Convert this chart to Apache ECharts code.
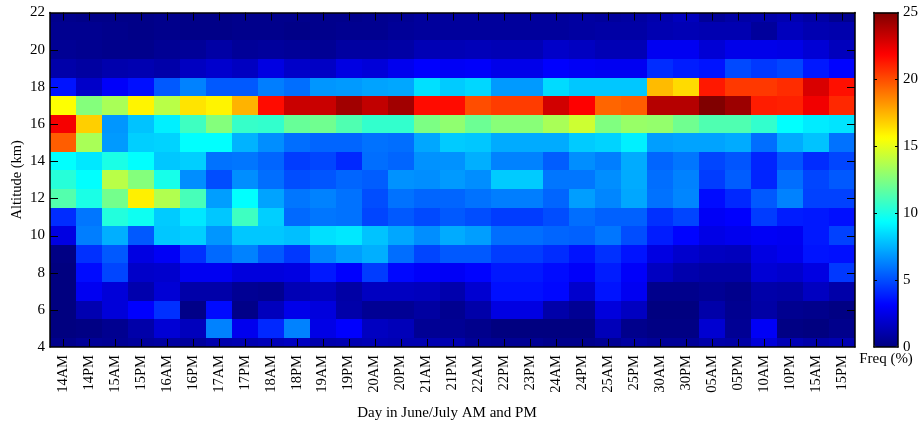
<!DOCTYPE html>
<html>
<head>
<meta charset="utf-8">
<style>html,body{margin:0;padding:0;background:#fff}#c{width:920px;height:421px}</style>
<script src="https://cdn.jsdelivr.net/npm/echarts@6/dist/echarts.min.js"></script>
</head>
<body>
<div id="c"></div>
<script>
var days = ['14AM','14PM','15AM','15PM','16AM','16PM','17AM','17PM','18AM','18PM','19AM','19PM','20AM','20PM','21AM','21PM','22AM','22PM','23PM','24AM','24PM','25AM','25PM','30AM','30PM','05AM','05PM','10AM','10PM','15AM','15PM'];
var alt22 = [.3,.2,.2,.2,.3,.2,.2,.3,.3,.3,.3,.3,.4,.5,.7,.7,.7,.7,.7,.7,.8,.7,.8,1.1,1.5,.6,.9,1.0,1.2,.9,.4];
var alt21 = [.4,.4,.3,.2,.3,.2,.2,.3,.3,.2,.3,.4,.4,.6,.7,.7,.7,.7,.7,.7,.8,.9,.9,1.2,1.3,1.2,1.2,.7,1.5,1.2,1.1];
var alt20 = [.5,.4,.3,.3,.5,.6,.9,.6,.7,.6,.5,.8,.8,.9,1.3,1.3,1.4,1.3,1.3,1.8,1.6,1.3,1.3,2.8,2.8,2.1,2.6,2.6,2.5,2.1,1.5];
var alt19 = [1,.8,1.1,1.2,1,1.6,1.9,1.6,2.4,1.8,1.7,2.4,2.2,2.7,3.1,2.9,3,2.6,2.6,3.1,2.9,2.8,2.8,4.2,3.8,3.6,4.9,4.5,4.8,3.7,3.2];
var alt18 = [3.6,1.8,3,3.5,5.3,6.3,5.3,5.3,6.2,5.8,6.8,6.9,7.1,7.2,8.6,8.1,8.4,6.9,6.9,8.5,8,8,8,17.3,16.5,21.3,20.5,20.5,20.8,22.8,21.5];
var alt17 = [15.6,12.6,13.5,15.9,13.9,16.3,15.9,17.5,21.6,23.2,23.2,24.2,23.4,24.2,21.6,21.6,20,20.4,20.4,23,21.9,19.4,19.6,23.7,23.7,25,24.3,21.2,21.1,22.2,20.9];
var alt16 = [22.1,16.8,6.8,7.9,9,10.9,12.6,10.7,10.6,11.9,12.1,11.3,10.6,10.6,12.4,12.9,12,12.7,12.7,13.5,14.4,12.5,13.1,13,12.1,11.3,11.3,10.6,9.4,8.9,8.7];
var alt15 = [19.6,13.5,6.9,8.2,8.3,9.4,9.4,7.5,6.6,5.8,5.6,5.6,5.9,5.8,7.2,8.1,8,7.3,7.3,7.3,8.1,8.3,9,7,7.1,7.1,7.3,5.8,7.3,7.9,5.9];
var alt14 = [9.4,8.8,10,9.4,8,8.2,5.9,6,5.6,4.6,4.8,4.1,5.8,5.6,6.7,6.7,7.4,6.3,6.3,5.4,6.6,6.2,7.3,5.6,6,4.8,5.2,4,5.2,4.2,4.8];
var alt13 = [10.3,9.4,13.9,12.6,9.9,6.6,5,6.6,5.8,5,5.2,5.6,5.4,6.7,6.6,6.9,6.6,8.1,8.1,6,6,6.6,7.3,5.8,6.3,4.6,5.4,4,5.8,4.8,5.3];
var alt12 = [11.4,10,12.2,16,13.7,11.1,7,9.4,7.1,6,6.3,5.9,5,5.9,5.6,5.6,5.9,6.2,6.2,5.6,7,6.4,7.2,5.9,6.4,3.4,4.1,5.3,6.3,4.7,4.7];
var alt11 = [4.2,6,10.2,9.7,8.1,8.8,8,10.9,8.2,5.7,6,5.9,4.8,5.3,4.9,5.3,5,4.6,4.6,5,5.8,5.5,5.5,4.3,4.8,2.9,3.1,4.6,3.8,3.7,3.5];
var alt10 = [2.4,6.2,7.4,5.3,8,8.2,6.8,8,8,7.8,8.6,8.8,7.9,7.2,6.6,7.3,7,5.8,5.8,5.6,5.5,6,5,3.8,3.2,2.5,2.7,2.9,2.8,3.7,4.7];
var alt9 = [.1,4.3,5.3,2.4,2.9,4.3,5.7,6.3,5.3,4.5,6.4,7,7.4,5.8,4.8,5.3,5.3,4.6,4.6,4.2,3.6,4.3,3.6,2.4,1.9,1.6,1.5,2.4,2.7,3.6,3.5];
var alt8 = [0,3.4,4.8,1.8,1.9,2.8,2.8,2.3,2.3,2.4,3.7,3.1,4.6,3.3,3,2.9,3.2,3.7,3.7,3.4,3,3.8,3,1.6,1.1,.9,.9,2.1,1.9,2.4,4.5];
var alt7 = [0,2.8,2.2,1.1,2.1,1,1,.5,.4,1.3,1.5,.9,1.6,1.6,1.5,1.1,2,3.5,3.5,3.3,1.9,3.6,2.8,.3,.3,.5,.3,1,.9,1.6,1];
var alt6 = [0,1.2,2.2,3.1,4.3,.2,3.4,.2,1.5,2.6,2.3,1,.5,.5,.8,.4,1,2.4,2.4,1,.5,2.3,1.6,0,0,1,.4,.9,.4,.3,.1];
var alt5 = [0,.1,.4,1,2.1,1.5,6.3,2.7,4.1,6.3,2.5,3.1,1.6,1.4,.5,.5,.3,0,0,0,0,1.4,.3,.1,.1,2,.5,2.9,.1,0,.3];
var alt4 = [.3,.6,.5,.7,.8,.7,1.1,1.2,1.4,1.6,1.1,1.2,1.3,1.2,1.2,1.2,.6,.5,.5,.3,.3,.5,.8,.6,.6,1,.9,2.2,1.3,1,1.2];
var altitudes = [4,5,6,7,8,9,10,11,12,13,14,15,16,17,18,19,20,21,22];
var rows = [alt4,alt5,alt6,alt7,alt8,alt9,alt10,alt11,alt12,alt13,alt14,alt15,alt16,alt17,alt18,alt19,alt20,alt21,alt22];
var altTicks = [6,8,10,12,14,16,18,20];
var freqTicks = [5,10,15,20];
var jet = ['#000080','#0000ff','#0080ff','#00ffff','#80ff80','#ffff00','#ff8000','#ff0000','#800000'];

var cells = [];
rows.forEach(function (r, i) {
  r.forEach(function (v, j) { cells.push([j, altitudes[i], v]); });
});

var FONT = '"Liberation Serif","Times New Roman",serif';
function axisLine() { return {show: true, onZero: false, lineStyle: {color: '#000', width: 1.5}}; }
function crisp(v) { return Math.round(v) + 0.5; }
function seg(x1, y1, x2, y2) {
  return {type: 'line', shape: {x1: x1, y1: y1, x2: x2, y2: y2}, style: {stroke: '#000', lineWidth: 1}};
}
function horizTicks(len) {
  return function (params, api) {
    var y = crisp(api.coord([0, api.value(0)])[1]);
    var g = params.coordSys;
    return {type: 'group', children: [seg(g.x, y, g.x + len, y), seg(g.x + g.width - len, y, g.x + g.width, y)]};
  };
}
function vertTicks(len) {
  return function (params, api) {
    var x = crisp(api.coord([api.value(0), 4])[0]);
    var g = params.coordSys;
    return {type: 'group', children: [seg(x, g.y, x, g.y + len), seg(x, g.y + g.height - len, x, g.y + g.height)]};
  };
}

var chart = echarts.init(document.getElementById('c'), null, {renderer: 'canvas'});
chart.setOption({
  animation: false,
  grid: [
    {left: 50, width: 805, top: 12.5, height: 334.5, outerBoundsMode: 'none'},
    {left: 874, width: 24, top: 12.5, height: 334.5, outerBoundsMode: 'none'}
  ],
  xAxis: [
    {gridIndex: 0, type: 'category', position: 'bottom', data: days, z: 5, zlevel: 1, axisLine: axisLine(), axisTick: {show: false},
     splitLine: {show: false},
     axisLabel: {interval: 0, rotate: 90, margin: 8, color: '#000', fontFamily: FONT, fontSize: 14.5},
     name: 'Day in June/July AM and PM', nameLocation: 'middle', nameGap: 59,
     nameTextStyle: {color: '#000', fontFamily: FONT, fontSize: 15, padding: [0, 11, 0, 0]}},
    {gridIndex: 0, type: 'category', position: 'top', data: days, z: 5, zlevel: 1, axisLine: axisLine(), axisTick: {show: false},
     axisLabel: {show: false}, splitLine: {show: false}},
    {gridIndex: 1, type: 'value', position: 'bottom', min: 0, max: 1, z: 5, zlevel: 1, axisLine: axisLine(), axisTick: {show: false},
     axisLabel: {show: false}, splitLine: {show: false},
     name: 'Freq (%)', nameLocation: 'middle', nameGap: 5,
     nameTextStyle: {color: '#000', fontFamily: FONT, fontSize: 15}},
    {gridIndex: 1, type: 'value', position: 'top', min: 0, max: 1, z: 5, zlevel: 1, axisLine: axisLine(), axisTick: {show: false},
     axisLabel: {show: false}, splitLine: {show: false}}
  ],
  yAxis: [
    {gridIndex: 0, type: 'value', position: 'left', min: 4, max: 22, interval: 2, z: 5, zlevel: 1, axisLine: axisLine(),
     axisTick: {show: false}, splitLine: {show: false},
     axisLabel: {margin: 5, color: '#000', fontFamily: FONT, fontSize: 15},
     name: 'Altitude (km)', nameLocation: 'middle', nameGap: 25, nameMoveOverlap: false,
     nameTextStyle: {color: '#000', fontFamily: FONT, fontSize: 14.5}},
    {gridIndex: 0, type: 'value', position: 'right', min: 4, max: 22, interval: 2, z: 5, zlevel: 1, axisLine: axisLine(),
     axisTick: {show: false}, axisLabel: {show: false}, splitLine: {show: false}},
    {gridIndex: 1, type: 'value', position: 'left', min: 0, max: 25, interval: 5, z: 5, zlevel: 1, axisLine: axisLine(),
     axisTick: {show: false}, axisLabel: {show: false}, splitLine: {show: false}},
    {gridIndex: 1, type: 'value', position: 'right', min: 0, max: 25, interval: 5, z: 5, zlevel: 1, axisLine: axisLine(),
     axisTick: {show: false}, splitLine: {show: false},
     axisLabel: {margin: 5, color: '#000', fontFamily: FONT, fontSize: 15}}
  ],
  visualMap: {
    type: 'continuous', seriesIndex: 0, dimension: 2, min: 0, max: 25,
    left: 874, top: 12.5, itemWidth: 24, itemHeight: 334.5, padding: 0,
    calculable: false, hoverLink: false, text: null, showLabel: false,
    inRange: {color: jet}
  },
  series: [{
    type: 'custom',
    xAxisIndex: 0, yAxisIndex: 0,
    data: cells,
    encode: {x: 0, y: 1},
    renderItem: function (params, api) {
      var c = api.coord([api.value(0), api.value(1)]);
      var s = api.size([1, 1]);
      var r = echarts.graphic.clipRectByRect(
        {x: c[0] - s[0] / 2, y: c[1] - s[1] / 2, width: s[0], height: s[1]},
        {x: params.coordSys.x, y: params.coordSys.y, width: params.coordSys.width, height: params.coordSys.height}
      );
      if (!r) return null;
      var x0 = Math.round(r.x), x1 = Math.round(r.x + r.width);
      var y0 = Math.round(r.y), y1 = Math.round(r.y + r.height);
      return {
        type: 'rect',
        shape: {x: x0, y: y0, width: x1 - x0, height: y1 - y0},
        style: {fill: api.visual('color')}
      };
    }
  }, {
    type: 'custom', silent: true, z: 10, zlevel: 1,
    xAxisIndex: 0, yAxisIndex: 0,
    data: altTicks.map(function (v) { return [v]; }),
    encode: {y: 0},
    renderItem: horizTicks(8)
  }, {
    type: 'custom', silent: true, z: 10, zlevel: 1,
    xAxisIndex: 0, yAxisIndex: 0,
    data: days.map(function (d, i) { return [i]; }),
    encode: {x: 0},
    renderItem: vertTicks(8)
  }, {
    type: 'custom', silent: true, z: 10, zlevel: 1,
    xAxisIndex: 2, yAxisIndex: 2,
    data: freqTicks.map(function (v) { return [v]; }),
    encode: {y: 0},
    renderItem: horizTicks(3)
  }]
});
</script>
</body>
</html>
